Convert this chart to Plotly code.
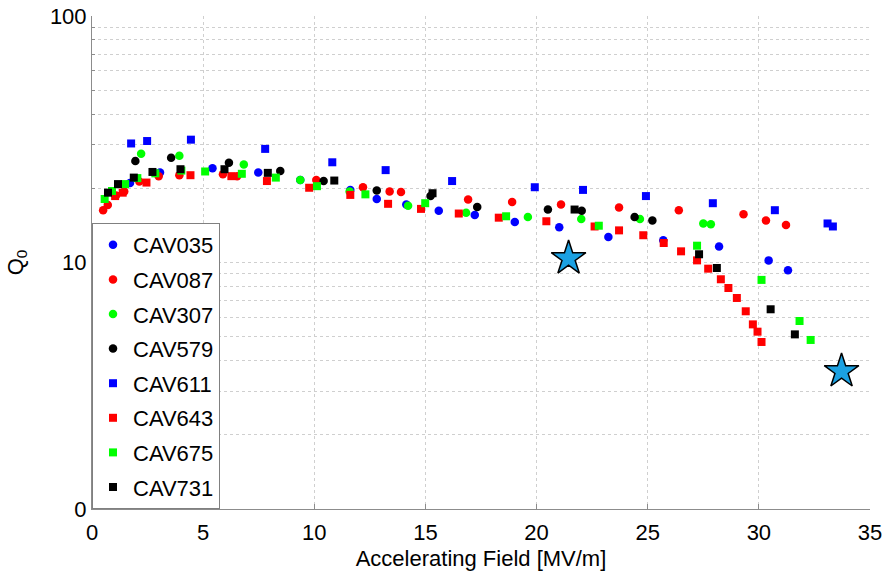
import plotly.graph_objects as go

# ---- data ----
cav035_x = [1.71, 3.06, 5.42, 7.48, 9.37, 11.62, 12.81, 14.14, 15.6, 17.22, 19.02, 21.02, 23.23, 25.7, 28.21, 30.44, 31.31]
cav035_y = [21.0, 23.2, 24.1, 23.2, 21.6, 19.7, 18.1, 17.2, 16.2, 15.6, 14.6, 13.9, 12.7, 12.3, 11.6, 10.2, 9.3]

cav087_x = [0.5, 0.71, 1.08, 1.45, 2.13, 3.0, 3.93, 5.89, 6.53, 10.09, 12.19, 13.39, 13.9, 16.92, 18.9, 21.1, 23.71, 26.4, 29.31, 30.32, 31.22]
cav087_y = [16.3, 17.1, 18.7, 19.4, 21.3, 22.4, 22.6, 22.8, 22.4, 21.6, 20.2, 19.4, 19.3, 18.0, 17.6, 17.2, 16.7, 16.3, 15.7, 14.8, 14.2]

cav307_x = [2.21, 3.93, 6.83, 9.37, 11.59, 14.22, 16.83, 19.61, 22.01, 24.65, 27.5, 27.84]
cav307_y = [27.6, 27.1, 25.0, 21.6, 19.4, 17.0, 15.9, 15.3, 15.0, 15.0, 14.4, 14.3]

cav579_x = [1.95, 3.56, 6.16, 8.47, 10.42, 12.81, 15.23, 17.33, 20.51, 22.03, 24.41, 25.21]
cav579_y = [25.8, 26.6, 25.4, 23.5, 21.4, 19.6, 18.6, 16.8, 16.4, 16.2, 15.3, 14.8]

cav611_x = [1.76, 2.48, 4.45, 7.79, 10.81, 13.21, 16.2, 19.92, 22.09, 24.92, 27.93, 30.72, 33.09, 33.33]
cav611_y = [30.4, 31.1, 31.5, 28.9, 25.5, 23.7, 21.4, 20.2, 19.7, 18.6, 17.4, 16.3, 14.4, 14.0]

cav643_x = [1.04, 1.38, 2.45, 4.43, 6.27, 7.87, 9.77, 11.62, 13.32, 14.8, 16.5, 18.3, 20.44, 22.61, 23.71, 24.8,
            25.72, 26.5, 27.22, 27.72, 28.29, 28.63, 29.01, 29.41, 29.73, 29.94, 30.12]
cav643_y = [18.6, 19.2, 21.1, 22.6, 22.4, 21.4, 20.1, 18.8, 17.3, 16.5, 15.8, 15.2, 14.7, 14.0, 13.5, 12.9,
            12.0, 11.1, 10.2, 9.44, 8.55, 7.88, 7.18, 6.34, 5.61, 5.24, 4.76]

cav675_x = [0.57, 0.9, 1.49, 2.04, 2.85, 4.02, 5.09, 6.74, 8.27, 10.12, 12.3, 14.99, 18.63, 22.8, 27.22, 30.12, 31.83, 32.33]
cav675_y = [18.1, 19.5, 20.8, 22.0, 23.0, 23.6, 23.4, 22.9, 22.1, 20.4, 18.9, 17.4, 15.4, 14.1, 11.7, 8.5, 5.79, 4.85]

cav731_x = [0.72, 1.17, 1.88, 2.72, 3.98, 5.96, 7.91, 10.9, 15.32, 21.71, 27.31, 28.11, 30.53, 31.62]
cav731_y = [19.2, 20.8, 22.1, 23.3, 23.9, 23.9, 23.1, 21.5, 19.1, 16.4, 10.8, 9.5, 6.46, 5.11]

star_x = [21.44, 33.72]
star_y = [10.4, 3.62]

y_tickvals = [1, 10, 100]
y_ticktext = ["0", "10", "100"]
x_tickvals = [0, 5, 10, 15, 20, 25, 30, 35]

series = [
    ("CAV035", cav035_x, cav035_y, "circle", "#0000FF"),
    ("CAV087", cav087_x, cav087_y, "circle", "#FF0000"),
    ("CAV307", cav307_x, cav307_y, "circle", "#00FF00"),
    ("CAV579", cav579_x, cav579_y, "circle", "#000000"),
    ("CAV611", cav611_x, cav611_y, "square", "#0000FF"),
    ("CAV643", cav643_x, cav643_y, "square", "#FF0000"),
    ("CAV675", cav675_x, cav675_y, "square", "#00FF00"),
    ("CAV731", cav731_x, cav731_y, "square", "#000000"),
]

FONT = "Liberation Sans, Arial, Helvetica, sans-serif"

fig = go.Figure()
for name, xs, ys, sym, col in series:
    fig.add_trace(go.Scatter(
        x=xs, y=ys, mode="markers", name=name, legendgroup=name,
        marker=dict(symbol=sym, color=col, size=8.5 if sym == "circle" else 8, line=dict(width=0)),
    ))

fig.add_trace(go.Scatter(
    x=star_x, y=star_y, mode="markers", showlegend=False,
    marker=dict(symbol="star", size=26, color="#1BA1E2", line=dict(color="black", width=1.5)),
))

minor_vals = [v * m for m in (1, 10) for v in range(2, 10)]

fig.update_layout(
    width=884, height=574,
    margin=dict(l=92, r=14, t=16, b=65),
    paper_bgcolor="white", plot_bgcolor="white",
    font=dict(family=FONT, size=22, color="black"),
    showlegend=True,
    legend=dict(
        x=0, y=0, xanchor="left", yanchor="bottom",
        bgcolor="white", bordercolor="#808080", borderwidth=1,
        font=dict(family=FONT, size=22, color="black"),
        itemwidth=30, tracegroupgap=3,
    ),
    xaxis=dict(
        range=[0, 35], tickvals=x_tickvals,
        showline=True, linecolor="#8c8c8c", linewidth=1, mirror=False,
        ticks="inside", ticklen=5, tickcolor="#8c8c8c",
        showgrid=True, gridcolor="#cfcfcf", griddash="dot", gridwidth=1,
        zeroline=False,
        tickfont=dict(family=FONT, size=22),
        ticklabelstandoff=4,
        title=dict(text="Accelerating Field [MV/m]", font=dict(family=FONT, size=22), standoff=6),
        automargin=False,
    ),
    yaxis=dict(
        type="log", range=[0, 2],
        tickvals=y_tickvals, ticktext=y_ticktext,
        showline=True, linecolor="#8c8c8c", linewidth=1, mirror=False,
        ticks="inside", ticklen=5, tickcolor="#8c8c8c",
        showgrid=True, gridcolor="#cfcfcf", griddash="dot", gridwidth=1,
        zeroline=False,
        tickfont=dict(family=FONT, size=22),
        ticklabelstandoff=0,
        minor=dict(tickvals=minor_vals, ticks="inside", ticklen=3, tickcolor="#8c8c8c",
                   showgrid=True, gridcolor="#cfcfcf", griddash="dot", gridwidth=1),
        title=dict(text="Q<sub>0</sub>", font=dict(family=FONT, size=22), standoff=20),
        automargin=False,
    ),
)

fig.write_html("out.html")
